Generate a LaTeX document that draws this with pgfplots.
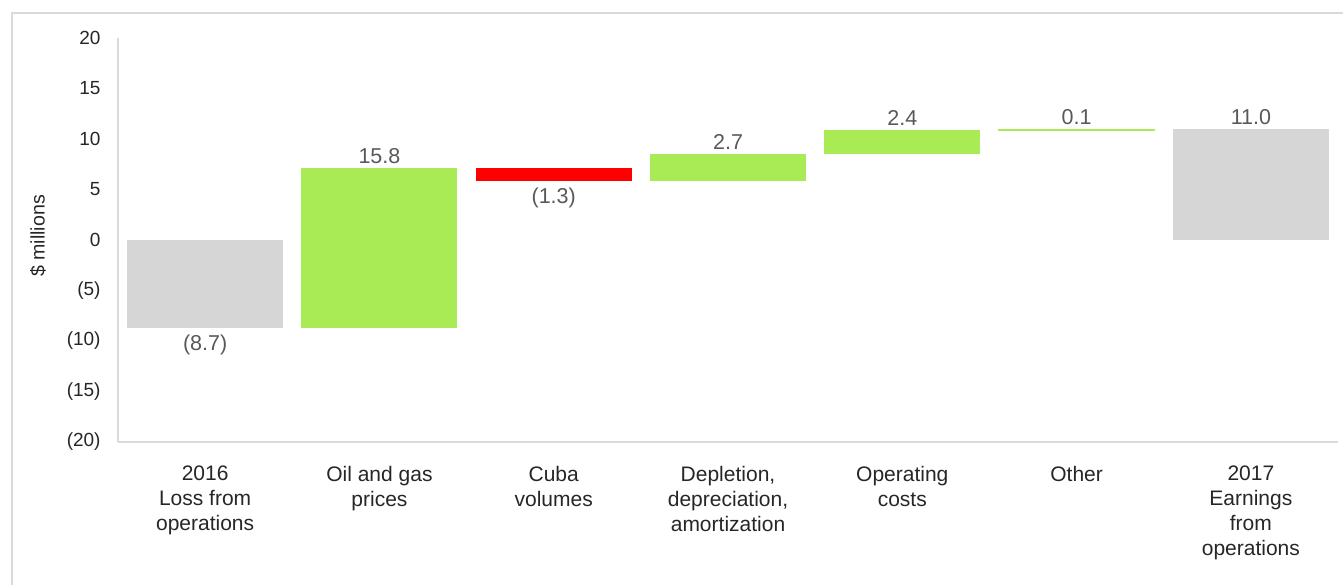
\documentclass[border=0pt]{standalone}
\usepackage{fontspec}
\setmainfont{Liberation Sans}
\usepackage{pgfplots}
\pgfplotsset{compat=1.18}

\definecolor{barGreen}{RGB}{168,235,84}
\definecolor{barRed}{RGB}{255,0,0}
\definecolor{barGray}{RGB}{214,214,214}
\definecolor{axisGray}{RGB}{217,217,217}
\definecolor{valGray}{RGB}{89,89,89}
\definecolor{txtDark}{RGB}{38,38,38}

% floating bar of a waterfall: [extra style] #2 colour, #3 position, #4 bottom, #5 top
\newcommand{\wbar}[5][]{%
  \addplot[draw=none, fill=#2, #1] coordinates
    {(#3-0.4475,#4) (#3+0.4475,#4) (#3+0.4475,#5) (#3-0.4475,#5)} -- cycle;}

\begin{document}
\begin{tikzpicture}[x=1bp,y=1bp]
\useasboundingbox (0,0) rectangle (671.5,292);
% outer frame
\draw[axisGray, line width=0.75bp] (6,-2) -- (6,285.5) -- (673,285.5);
\begin{axis}[
  at={(59bp,71bp)}, anchor=south west,
  scale only axis,
  width=610bp, height=202bp,
  xmin=-0.5, xmax=6.5,
  ymin=-20, ymax=20,
  enlargelimits=false,
  axis lines=left,
  axis line style={-, draw=axisGray, line width=0.75bp},
  major tick length=0pt,
  xtick={0,...,6},
  xticklabels={
    {2016\\Loss from\\operations},
    {Oil and gas\\prices},
    {Cuba\\volumes},
    {Depletion,\\depreciation,\\amortization},
    {Operating\\costs},
    {Other},
    {2017\\Earnings\\from\\operations}},
  xticklabel style={align=center, text=txtDark, yshift=-8.5bp,
    font=\fontsize{10.5bp}{12.5bp}\selectfont},
  ytick={-20,-15,...,20},
  yticklabels={(20),(15),(10),(5),0,5,10,15,20},
  yticklabel style={text=txtDark, xshift=-5.2bp,
    font=\fontsize{9.5bp}{12.5bp}\selectfont},
  ylabel={\$ millions},
  ylabel style={at={(axis description cs:-0.0656,0.51)}, anchor=center,
    rotate=0, text=txtDark, font=\fontsize{9.8bp}{12.5bp}\selectfont},
  clip=false,
]
% start, changes, end
\wbar{barGray}{0}{0}{-8.7}
\wbar{barGreen}{1}{-8.7}{7.1}
\wbar{barRed}{2}{5.8}{7.1}
\wbar{barGreen}{3}{5.8}{8.5}
\wbar{barGreen}{4}{8.5}{10.9}
\wbar[draw=barGreen, line width=0.4bp]{barGreen}{5}{10.9}{11.0}
\wbar{barGray}{6}{0}{11.0}

% value labels above bars
\addplot[draw=none, mark=none,
  point meta=explicit symbolic, nodes near coords,
  every node near coord/.style={anchor=south, inner sep=2bp, text=valGray,
    font=\fontsize{10.75bp}{12.5bp}\selectfont}]
  coordinates {(1,7.1)[15.8] (3,8.5)[2.7] (4,10.9)[2.4] (5,11.0)[0.1] (6,11.0)[11.0]};
% value labels below bars
\addplot[draw=none, mark=none,
  point meta=explicit symbolic, nodes near coords,
  every node near coord/.style={anchor=north, inner sep=3.2bp, text=valGray,
    font=\fontsize{10.75bp}{12.5bp}\selectfont}]
  coordinates {(0,-8.7)[(8.7)] (2,5.8)[(1.3)]};
\end{axis}
\end{tikzpicture}
\end{document}
